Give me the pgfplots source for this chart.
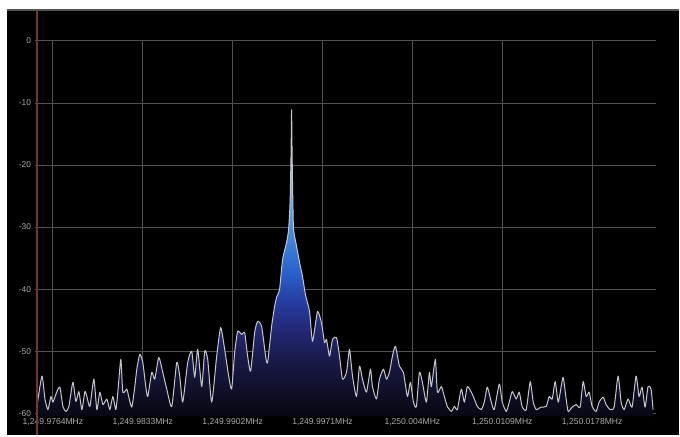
\documentclass[border=0pt]{standalone}
\usepackage{pgfplots}
\pgfplotsset{compat=1.18}
\usepackage{pgfplotstable}
\usepackage{fontspec}
\setmainfont{Liberation Sans}
\definecolor{gridc}{RGB}{82,82,82}
\definecolor{labc}{RGB}{170,170,170}
\definecolor{tracec}{RGB}{198,198,205}
\definecolor{markerc}{RGB}{115,52,52}
\definecolor{framec}{RGB}{85,85,85}
\definecolor{sA}{RGB}{8,8,20}
\definecolor{sB}{RGB}{14,14,36}
\definecolor{sC}{RGB}{24,24,68}
\definecolor{sD}{RGB}{34,38,112}
\definecolor{sE}{RGB}{38,60,160}
\definecolor{sF}{RGB}{42,98,205}
\definecolor{sG}{RGB}{62,132,218}
\definecolor{sH}{RGB}{95,157,222}
\definecolor{sI}{RGB}{135,177,222}
\definecolor{sJ}{RGB}{172,197,226}
\definecolor{sK}{RGB}{225,228,236}
\pgfdeclareverticalshading{spec}{100bp}{color(0bp)=(sA); color(25bp)=(sA); color(28.5bp)=(sB); color(33.6bp)=(sC); color(38.6bp)=(sD); color(43.7bp)=(sE); color(48.7bp)=(sF); color(53.8bp)=(sG); color(58.8bp)=(sH); color(63.9bp)=(sI); color(70bp)=(sJ); color(75bp)=(sK); color(100bp)=(sK)}

\pgfplotstableread{
x y
37 -58.9
42 -54.0
45 -57.7
48 -59.4
51 -57.3
53 -58.2
57 -56.5
60 -55.8
63 -58.9
66 -59.7
69 -58.9
73 -55.0
76 -58.1
79 -56.5
82 -59.4
85 -56.5
87 -57.3
90 -58.9
94 -54.5
97 -59.4
100 -56.6
103 -58.6
107 -57.7
110 -59.4
113 -57.3
116 -59.4
118 -56.6
121 -51.3
123 -56.6
127 -56.1
129 -57.4
132 -59.0
135 -55.7
137 -52.9
140 -50.5
143 -51.8
146 -55.7
148 -57.3
152 -53.4
155 -54.5
159 -51.0
163 -53.4
167 -56.1
172 -58.9
177 -51.8
180 -54.0
183 -58.2
188 -51.8
192 -50.0
195 -54.2
198 -49.7
202 -55.7
205 -50.0
208 -51.3
212 -58.2
217 -50.8
221 -46.2
225 -49.7
229 -54.0
232 -56.1
235 -50.2
238 -46.8
242 -47.3
245 -47.0
248 -50.8
251 -53.2
255 -47.0
258 -45.2
262 -46.0
266 -50.8
268 -51.8
272 -46.0
275 -42.8
277 -41.3
280 -40.0
283 -35.2
287 -32.5
289 -30.4
290.5 -26.0
291.5 -18.0
292 -11.1
292.5 -18.0
293.3 -26.0
294 -30.4
297 -33.1
300 -35.7
303 -38.0
306 -41.0
310 -43.6
313 -48.4
318 -43.6
322 -45.5
325 -48.6
327 -48.1
330 -50.8
333 -48.1
337 -47.8
340 -50.8
343 -54.5
347 -53.4
350 -49.7
353 -54.0
357 -57.3
360 -52.4
363 -54.5
367 -56.6
371 -52.9
373 -55.7
377 -57.7
380 -54.5
384 -52.9
387 -54.5
390 -53.4
393 -50.8
396 -49.2
400 -52.4
404 -53.4
408 -57.3
411 -55.0
414 -58.2
417 -58.9
420 -53.4
423 -55.0
427 -58.2
430 -53.4
432 -55.7
436 -51.3
438 -56.6
442 -55.7
445 -57.3
448 -58.9
452 -59.7
455 -58.9
458 -59.4
462 -56.1
465 -58.2
468 -55.7
472 -56.6
475 -57.7
478 -58.9
482 -59.4
485 -58.2
488 -55.8
492 -58.2
495 -59.4
500 -55.3
503 -58.2
507 -59.7
510 -58.2
513 -56.5
517 -57.7
520 -56.6
523 -59.0
527 -59.4
531 -54.9
534 -58.2
537 -59.4
542 -59.0
547 -58.9
550 -57.3
553 -57.7
556 -54.9
559 -58.2
562 -55.7
564 -54.2
567 -57.7
569 -59.7
573 -59.0
577 -58.6
581 -59.0
584 -54.9
587 -57.3
590 -56.6
593 -58.9
597 -59.7
600 -58.2
604 -57.4
607 -58.6
611 -59.4
615 -59.0
619 -54.0
622 -58.2
625 -59.4
629 -57.7
633 -59.0
637 -54.0
640 -57.3
643 -55.8
646 -59.0
649 -55.7
652 -56.1
654 -59.4
}\trace

\begin{document}
\begin{tikzpicture}[x=1bp,y=1bp]
\fill[white] (0,0) rectangle (680,436);
\fill[black] (7,0) rectangle (680,426);
\draw[framec, line width=2bp] (7,426) -- (680,426);
\begin{axis}[
  at={(35bp,19bp)}, anchor=south west,
  scale only axis, width=622bp, height=376bp,
  xmin=35, xmax=657, ymin=-60.5, ymax=0,
  axis line style={draw=none},
  major tick length=0pt,
  xtick={53,143,233,323,413,503,593},
  xticklabels={{1,249.9764MHz},{1,249.9833MHz},{1,249.9902MHz},{1,249.9971MHz},{1,250.004MHz},{1,250.0109MHz},{1,250.0178MHz}},
  ytick={0,-10,-20,-30,-40,-50,-60},
  /pgf/number format/assume math mode=true,
  grid=major,
  major grid style={gridc, line width=0.9bp},
  ticklabel style={labc},
  xticklabel style={font=\fontsize{8.6}{9}\selectfont, yshift=1.5bp},
  yticklabel style={font=\fontsize{8.4}{9}\selectfont, xshift=-0.5bp},
]
\addplot[draw=none, shade, shading=spec, smooth, tension=0.35] table {\trace} -- (654,-60.5) -- (37,-60.5) -- cycle;
\addplot[tracec, line width=1pt, line join=round, smooth, tension=0.35] table {\trace};
\end{axis}
\draw[markerc, line width=1.4bp] (37,0) -- (37,425);
\end{tikzpicture}
\end{document}
